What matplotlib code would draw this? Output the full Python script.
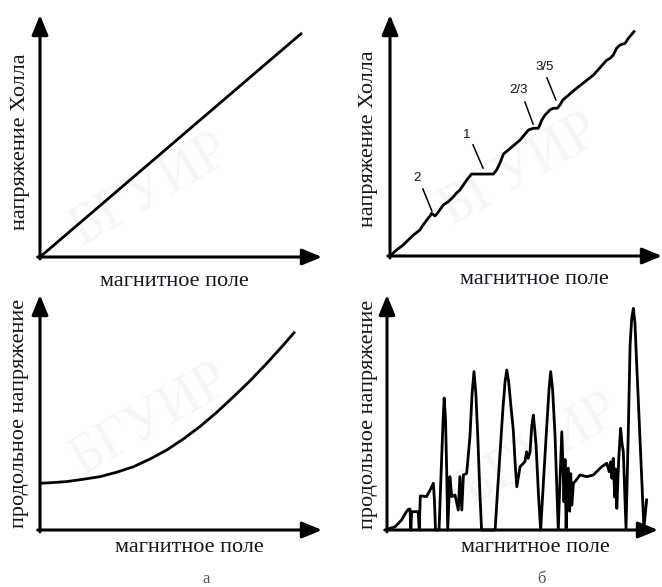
import matplotlib
matplotlib.use("Agg")
import matplotlib.pyplot as plt

# ---------------- data (arbitrary units, axes run 0..100) ----------------
# (а) Hall voltage, classical: straight line
hall_a_B = [0.0, 92.9]
hall_a_V = [0.0, 92.6]

# (а) longitudinal voltage, classical: smooth rise
long_a_B = [0.0, 3.5, 9.5, 15.4, 21.3, 27.2, 33.1, 39.0, 44.9, 50.8, 56.7,
            62.7, 68.6, 74.5, 80.4, 86.3, 90.4]
long_a_V = [19.9, 20.1, 20.6, 21.6, 22.7, 24.6, 26.9, 30.2, 34.0, 38.7, 44.0,
            50.1, 56.7, 63.5, 70.9, 78.7, 84.4]

# (б) Hall voltage with quantum plateaus
hall_b_B = [0.0, 2.5, 4.9, 6.5, 8.6, 11.0, 12.0, 13.5, 14.7, 15.3, 16.5, 17.4,
            19.6, 21.5, 23.3, 24.5, 25.7, 26.8, 28.2, 30.0, 38.0, 39.2, 40.4,
            41.7, 43.5, 47.8, 50.9, 52.7, 54.5, 55.1, 55.8, 57.0, 58.8, 60.0,
            61.5, 62.5, 63.5, 68.6, 74.8, 79.7, 80.9, 82.1, 83.3, 84.6, 86.4,
            87.6, 89.7]
hall_b_V = [0.0, 2.6, 4.6, 6.4, 8.7, 10.8, 12.6, 14.9, 16.6, 17.7, 16.6, 17.7,
            21.2, 22.6, 24.6, 26.2, 27.4, 29.2, 31.5, 34.0, 34.0, 35.7, 38.5,
            42.3, 44.0, 48.1, 52.3, 53.0, 53.0, 54.4, 56.4, 58.5, 60.6, 61.3,
            61.3, 62.7, 64.7, 69.6, 75.1, 81.3, 82.0, 83.4, 86.2, 87.6, 88.2,
            90.3, 93.1]

# (б) longitudinal voltage with Shubnikov-de Haas style peaks
long_b_B = [0.0, 3.0, 5.4, 7.0, 7.9, 8.5, 8.8, 9.1, 9.7, 11.5, 11.9, 12.3, 14.6,
            15.9, 17.1, 17.5, 17.9, 19.2, 20.0, 20.7, 21.1, 21.6, 22.1, 22.4,
            23.2, 23.9, 25.1, 26.3, 26.9, 27.6, 28.2, 29.4, 30.6, 31.4, 32.1,
            32.8, 33.5, 34.3, 34.9, 39.9, 40.7, 41.7, 42.8, 43.6, 44.2, 44.9,
            45.7, 46.6, 47.3, 47.9, 49.1, 50.9, 51.5, 52.1, 52.8, 53.4, 54.0,
            54.5, 55.0, 55.9, 56.7, 57.8, 58.9, 59.8, 60.4, 61.1, 62.0, 62.6,
            63.2, 63.8, 64.5, 65.0, 65.3, 65.7, 66.1, 66.5, 66.9, 67.4, 67.8,
            68.2, 68.8, 69.4, 71.2, 73.7, 76.1, 79.2, 81.1, 82.0, 82.5, 83.0,
            83.5, 84.0, 84.4, 84.8, 85.5, 86.2, 86.7, 87.2, 88.2, 89.0, 89.7,
            90.3, 90.9, 91.5, 92.1, 93.5, 94.8, 95.8]
long_b_V = [0.3, 1.4, 4.3, 7.5, 8.8, 8.9, 0.0, 7.7, 7.8, 7.8, 0.0, 14.5, 14.2,
            17.0, 19.9, 12.8, 0.0, 0.0, 25.5, 46.8, 56.2, 46.8, 21.3, 0.0,
            22.7, 14.2, 14.9, 8.5, 22.7, 8.5, 23.4, 24.1, 39.7, 58.0, 67.4,
            58.0, 39.7, 15.0, 0.0, 0.0, 15.0, 32.6, 52.0, 63.5, 68.1, 63.0,
            53.0, 42.6, 28.0, 18.4, 26.9, 29.1, 33.3, 30.5, 33.3, 44.0, 48.9,
            43.0, 36.2, 15.0, 0.0, 22.0, 43.3, 60.0, 67.4, 60.0, 40.4, 20.0,
            0.0, 20.0, 41.8, 25.0, 12.0, 30.0, 0.8, 26.0, 26.3, 8.0, 24.0,
            10.6, 20.0, 20.6, 23.4, 22.7, 23.4, 26.9, 28.4, 24.8, 29.0, 22.0,
            30.5, 14.0, 26.0, 9.2, 30.0, 43.3, 37.0, 33.3, 0.7, 40.0, 78.7,
            90.0, 94.3, 88.0, 71.6, 35.0, 0.7, 12.8]

# filling-factor labels on the quantum Hall curve
nu_labels = ["2", "1", "2/3", "3/5"]
nu_text_B = [9.9, 28.3, 47.4, 57.0]
nu_text_V = [32.4, 50.2, 68.9, 78.4]
nu_line_B0 = [12.1, 30.5, 49.6, 57.7]
nu_line_V0 = [27.8, 46.1, 63.9, 73.9]
nu_line_B1 = [15.4, 34.2, 52.6, 61.0]
nu_line_V1 = [18.7, 36.5, 54.8, 64.7]

xlabel = "магнитное поле"
ylabel_hall = "напряжение Холла"
ylabel_long = "продольное напряжение"
panel_tags = ["а", "б"]
watermark = "БГУИР"

# ---------------- layout ----------------
W, H = 662, 587
fig = plt.figure(figsize=(W / 100, H / 100), dpi=100)
fig.patch.set_facecolor("white")

def rect(x0, y0, x1, y1):
    # pixel box (origin at top-left of image) -> figure fraction
    return [x0 / W, 1 - y1 / H, (x1 - x0) / W, (y1 - y0) / H]

def fx(px):
    return px / W

def fy(py):
    return 1 - py / H

serif = ["Liberation Serif", "DejaVu Serif"]
sans = ["Liberation Sans", "DejaVu Sans"]
txt_col = "#141420"

# very faint watermark in a background layer
bg = fig.add_axes([0, 0, 1, 1], zorder=-10)
bg.set_xlim(0, W)
bg.set_ylim(H, 0)
bg.axis("off")
for (wx, wy) in [(150, 190), (150, 420), (520, 170), (540, 450)]:
    bg.text(wx, wy, watermark, fontsize=40, rotation=30,
            color="#f6f6f6", ha="center", va="center", family=serif)

def make_axes(box):
    ax = fig.add_axes(box)
    ax.set_xlim(0, 100)
    ax.set_ylim(0, 100)
    for s in ax.spines.values():
        s.set_visible(False)
    ax.set_xticks([])
    ax.set_yticks([])
    ax.patch.set_alpha(0)
    arrow = dict(arrowstyle="-|>,head_length=0.8,head_width=0.33",
                 lw=2.2, color="black", mutation_scale=15,
                 shrinkA=0, shrinkB=0)
    ax.annotate("", xy=(100, 0), xytext=(-0.8, 0), arrowprops=arrow,
                annotation_clip=False)
    ax.annotate("", xy=(0, 100), xytext=(0, -0.8), arrowprops=arrow,
                annotation_clip=False)
    return ax

ax_tl = make_axes(rect(40, 15, 322, 257))
ax_tr = make_axes(rect(390, 15, 662, 256))
ax_bl = make_axes(rect(40, 295, 322, 530))
ax_br = make_axes(rect(387, 295, 658, 530))

lw = 2.0
ax_tl.plot(hall_a_B, hall_a_V, color="black", lw=lw, clip_on=False,
           solid_capstyle="butt")
ax_bl.plot(long_a_B, long_a_V, color="black", lw=lw, clip_on=False,
           solid_capstyle="butt")
ax_tr.plot(hall_b_B, hall_b_V, color="black", lw=lw, clip_on=False,
           solid_joinstyle="round")
ax_br.plot(long_b_B, long_b_V, color="black", lw=lw, clip_on=False,
           solid_joinstyle="round")

for lab, tb, tv, b0, v0, b1, v1 in zip(nu_labels, nu_text_B, nu_text_V,
                                       nu_line_B0, nu_line_V0,
                                       nu_line_B1, nu_line_V1):
    ax_tr.text(tb, tv, lab, fontsize=9.5, family=sans, ha="center",
               va="center", color="#111111")
    ax_tr.plot([b0, b1], [v0, v1], color="black", lw=1.1)

# axis labels
lab_fs = 16
fig.text(fx(174), fy(282), xlabel, fontsize=lab_fs, family=serif,
         ha="center", va="center", color=txt_col)
fig.text(fx(534), fy(280), xlabel, fontsize=lab_fs, family=serif,
         ha="center", va="center", color=txt_col)
fig.text(fx(189), fy(547), xlabel, fontsize=lab_fs, family=serif,
         ha="center", va="center", color=txt_col)
fig.text(fx(535), fy(547), xlabel, fontsize=lab_fs, family=serif,
         ha="center", va="center", color=txt_col)

fig.text(fx(21), fy(142), ylabel_hall, fontsize=lab_fs, family=serif,
         rotation=90, ha="center", va="center", color=txt_col)
fig.text(fx(369), fy(139), ylabel_hall, fontsize=lab_fs, family=serif,
         rotation=90, ha="center", va="center", color=txt_col)
fig.text(fx(20), fy(413), ylabel_long, fontsize=lab_fs, family=serif,
         rotation=90, ha="center", va="center", color=txt_col)
fig.text(fx(369), fy(414), ylabel_long, fontsize=lab_fs, family=serif,
         rotation=90, ha="center", va="center", color=txt_col)

fig.text(fx(206), fy(579), panel_tags[0], fontsize=12, family=serif,
         ha="center", va="center", color="#555555")
fig.text(fx(542), fy(579), panel_tags[1], fontsize=12, family=serif,
         ha="center", va="center", color="#555555")

fig.savefig("out.png", dpi=100, facecolor="white")
